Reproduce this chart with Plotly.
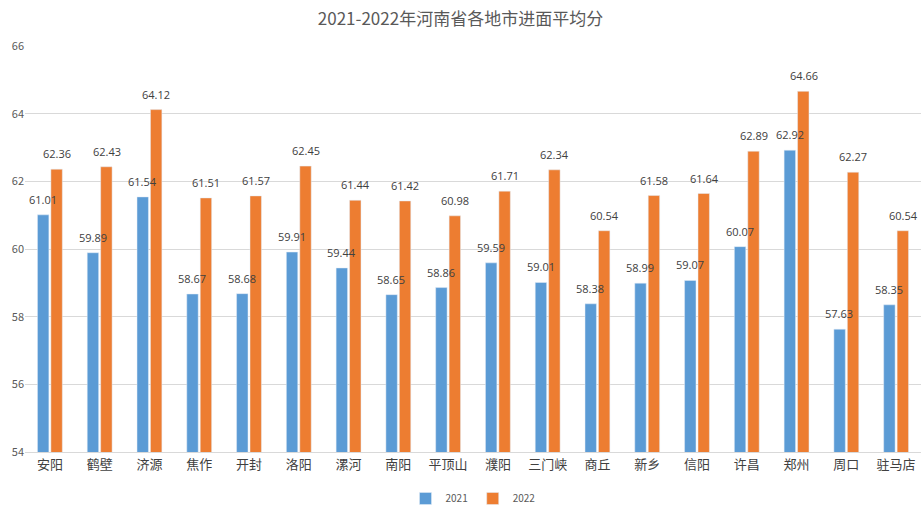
import plotly.graph_objects as go

cities = ["安阳", "鹤壁", "济源", "焦作", "开封", "洛阳", "漯河", "南阳", "平顶山",
          "濮阳", "三门峡", "商丘", "新乡", "信阳", "许昌", "郑州", "周口", "驻马店"]
v2021 = [61.01, 59.89, 61.54, 58.67, 58.68, 59.91, 59.44, 58.65, 58.86,
         59.59, 59.01, 58.38, 58.99, 59.07, 60.07, 62.92, 57.63, 58.35]
v2022 = [62.36, 62.43, 64.12, 61.51, 61.57, 62.45, 61.44, 61.42, 60.98,
         61.71, 62.34, 60.54, 61.58, 61.64, 62.89, 64.66, 62.27, 60.54]
yticks = [54, 56, 58, 60, 62, 64, 66]

font = "Noto Sans CJK SC"
fig = go.Figure()
series = [("2021", v2021, "#5B9BD5", -7), ("2022", v2022, "#ED7D31", 7)]
for name, vals, col, shift in series:
    fig.add_trace(go.Bar(name=name, x=cities, y=vals, marker_color=col))
    for c, v in zip(cities, vals):
        fig.add_annotation(x=c, y=v, text=f"{v:.2f}", showarrow=False,
                           xshift=shift, yshift=6, yanchor="bottom",
                           font=dict(size=11, color="#404040", family="Open Sans"))

fig.update_layout(
    width=921, height=513,
    margin=dict(l=25, r=0, t=46, b=55),
    paper_bgcolor="white", plot_bgcolor="white",
    font=dict(family=font, color="#595959"),
    title=dict(text="2021-2022年河南省各地市进面平均分", x=0.5, xanchor="center",
               y=0.975, yanchor="top", font=dict(size=17, color="#595959", family=font)),
    barmode="group", bargap=0.46, bargroupgap=0.15,
    legend=dict(orientation="h", x=0.5, xanchor="center", y=-0.08, yanchor="top",
                font=dict(size=10, color="#595959"), itemwidth=30),
    showlegend=True,
)
fig.update_yaxes(range=[54, 66], tickvals=yticks, showgrid=True, gridcolor="#D9D9D9",
                 zeroline=False, tickfont=dict(size=11, color="#595959"),
                 ticks="", showline=False)
fig.update_xaxes(showline=True, linecolor="#D9D9D9", tickfont=dict(size=13, color="#404040"),
                 ticks="")
fig.write_html("out.html")
